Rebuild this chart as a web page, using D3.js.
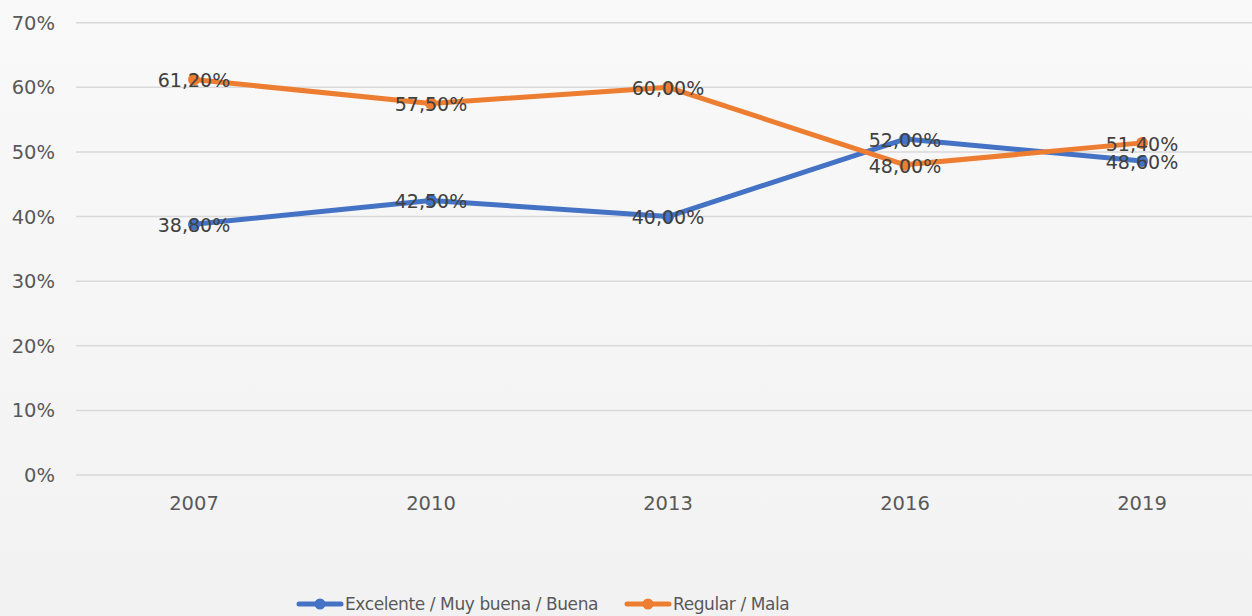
<!DOCTYPE html>
<html lang="es">
<head>
  <meta charset="UTF-8">
  <title>Excelente / Regular</title>
  <style>
    body { margin: 0; overflow: hidden; }
    svg { display: block; font-family: "DejaVu Sans", sans-serif; }
    .grid line { stroke: #d9d9d9; stroke-width: 1.5px; }
    .tick-label { fill: #595959; font-size: 19.5px; }
    .data-label { fill: #404040; font-size: 19px; }
    .legend-label { fill: #595959; font-size: 17px; letter-spacing: -0.4px; }
  </style>
</head>
<body>
  <svg width="1252" height="616"></svg>

  <script src="https://d3js.org/d3.v7.min.js"></script>
  <script>
    const years = ["2007", "2010", "2013", "2016", "2019"];
    const buena = [38.8, 42.5, 40.0, 52.0, 48.6];
    const mala = [61.2, 57.5, 60.0, 48.0, 51.4];
    const yTicks = [0, 10, 20, 30, 40, 50, 60, 70];
    const seriesNames = ["Excelente / Muy buena / Buena", "Regular / Mala"];
    const colors = ["#4472c4", "#ed7d31"];

    const width = 1252, height = 616;
    const svg = d3.select("svg");

    // background gradient
    const grad = svg.append("defs").append("linearGradient")
      .attr("id", "bg").attr("x1", 0).attr("y1", 0).attr("x2", 0).attr("y2", 1);
    grad.append("stop").attr("offset", "0%").attr("stop-color", "#f9f9f9");
    grad.append("stop").attr("offset", "100%").attr("stop-color", "#f2f2f2");
    svg.append("rect").attr("width", width).attr("height", height).attr("fill", "url(#bg)");

    const x = d3.scaleBand().domain(years).range([75.5, 1260.5]);
    const y = d3.scaleLinear().domain([0, 70]).range([475, 22.7]);

    // gridlines
    svg.append("g").attr("class", "grid")
      .selectAll("line")
      .data(yTicks)
      .join("line")
      .attr("x1", 76).attr("x2", width)
      .attr("y1", d => y(d)).attr("y2", d => y(d));

    svg.append("g")
      .selectAll("text")
      .data(yTicks)
      .join("text")
      .attr("class", "tick-label")
      .attr("x", 55)
      .attr("y", d => y(d))
      .attr("dy", "0.36em")
      .attr("text-anchor", "end")
      .text(d => d + "%");

    svg.append("g")
      .selectAll("text")
      .data(years)
      .join("text")
      .attr("class", "tick-label")
      .attr("x", d => x(d) + x.bandwidth() / 2)
      .attr("y", 503)
      .attr("dy", "0.36em")
      .attr("text-anchor", "middle")
      .text(d => d);

    const series = [buena, mala];
    const line = d3.line()
      .x((d, i) => x(years[i]) + x.bandwidth() / 2)
      .y(d => y(d));

    series.forEach((vals, s) => {
      const g = svg.append("g");
      g.append("path")
        .datum(vals)
        .attr("d", line)
        .attr("fill", "none")
        .attr("stroke", colors[s])
        .attr("stroke-width", 5)
        .attr("stroke-linejoin", "round")
        .attr("stroke-linecap", "round");
      g.selectAll("circle")
        .data(vals)
        .join("circle")
        .attr("cx", (d, i) => x(years[i]) + x.bandwidth() / 2)
        .attr("cy", d => y(d))
        .attr("r", 6)
        .attr("fill", colors[s]);
    });

    const fmt = v => v.toFixed(2).replace(".", ",") + "%";
    series.forEach((vals, s) => {
      svg.append("g")
        .selectAll("text")
        .data(vals)
        .join("text")
        .attr("class", "data-label")
        .attr("x", (d, i) => x(years[i]) + x.bandwidth() / 2)
        .attr("y", d => y(d) + 1)
        .attr("dy", "0.36em")
        .attr("text-anchor", "middle")
        .text(d => fmt(d));
    });

    // legend
    const legendX = [299, 627];
    const legend = svg.append("g");
    seriesNames.forEach((name, s) => {
      const lg = legend.append("g").attr("transform", `translate(${legendX[s]},604)`);
      lg.append("line")
        .attr("x1", 0).attr("x2", 42)
        .attr("stroke", colors[s]).attr("stroke-width", 5)
        .attr("stroke-linecap", "round");
      lg.append("circle").attr("cx", 21).attr("r", 5.5).attr("fill", colors[s]);
      lg.append("text")
        .attr("class", "legend-label")
        .attr("x", 46)
        .attr("dy", "0.36em")
        .text(name);
    });
  </script>
</body>
</html>
